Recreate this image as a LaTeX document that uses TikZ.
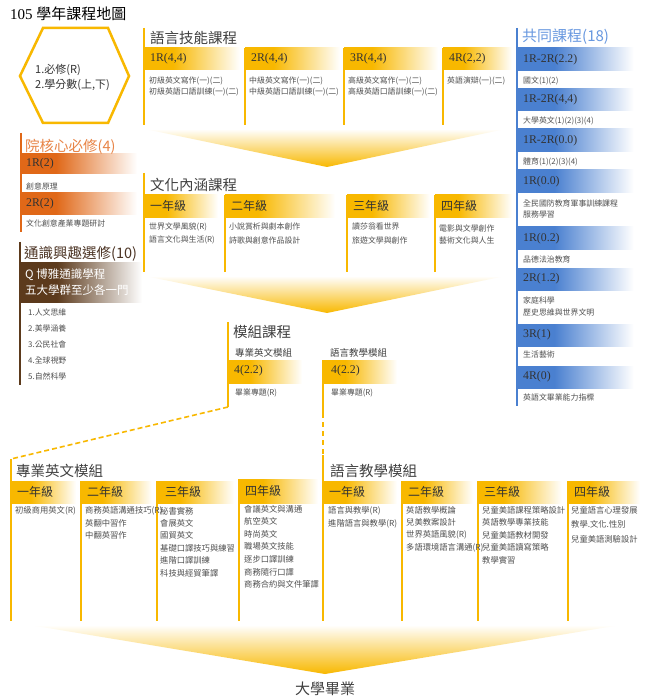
\documentclass[tikz,border=0pt]{standalone}
\usepackage{fontspec}
\setmainfont{Liberation Serif}
\newfontfamily\cjk{Noto Sans CJK TC}
\definecolor{cgold}{RGB}{248,184,0}
\definecolor{cblue}{RGB}{74,128,208}
\definecolor{cbluet}{RGB}{104,152,224}
\definecolor{corange}{RGB}{224,104,24}
\definecolor{coranget}{RGB}{232,132,70}
\definecolor{cbrown}{RGB}{92,58,28}
\definecolor{cbrownt}{RGB}{76,52,36}
\definecolor{chead}{RGB}{51,51,51}
\definecolor{ctitle}{RGB}{64,64,64}
\definecolor{ctxt}{RGB}{80,80,80}
\pgfdeclarehorizontalshading{fgold}{100bp}{color(0bp)=(cgold); color(25bp)=(cgold); color(40bp)=(cgold); color(75bp)=(white); color(100bp)=(white)}
\pgfdeclarehorizontalshading{fblue}{100bp}{color(0bp)=(cblue); color(25bp)=(cblue); color(40bp)=(cblue); color(72bp)=(white); color(100bp)=(white)}
\pgfdeclarehorizontalshading{forange}{100bp}{color(0bp)=(corange); color(25bp)=(corange); color(40bp)=(corange); color(75bp)=(white); color(100bp)=(white)}
\pgfdeclarehorizontalshading{fbrown}{100bp}{color(0bp)=(cbrown); color(25bp)=(cbrown); color(40bp)=(cbrown); color(75bp)=(white); color(100bp)=(white)}
\tikzset{
  it/.style={anchor=west, inner sep=0pt, font=\cjk\fontsize{7.9}{9}\selectfont, text=ctxt},
  itb/.style={anchor=west, inner sep=0pt, font=\cjk\fontsize{8.3}{9}\selectfont, text=ctxt},
  bandlbl/.style={anchor=west, inner sep=0pt, font=\fontsize{11.8}{13}\selectfont, text=chead},
  gradelbl/.style={anchor=west, inner sep=0pt, font=\cjk\fontsize{12}{13}\selectfont, text=chead},
  sect/.style={anchor=west, inner sep=0pt, font=\cjk\fontsize{14.5}{15}\selectfont, text=ctitle},
  subsect/.style={anchor=west, inner sep=0pt, font=\cjk\fontsize{9.5}{10}\selectfont, text=ctitle},
  goldline/.style={draw=cgold, line width=2pt},
  funnel/.style={top color=white, middle color=cgold!28, bottom color=cgold},
}
\begin{document}
\begin{tikzpicture}[x=1pt,y=-1pt]
\useasboundingbox (0,0) rectangle (647,700);
\fill[white] (0,0) rectangle (647,700);

% ---------- title
\node[anchor=west, inner sep=0pt, font=\fontsize{15}{16}\selectfont, text=black] (title) at (10,14) {105 {\cjk 學年課程地圖}};

% ---------- hexagon legend
\draw[cgold, line width=2.5pt, line join=miter] (20,76) -- (43,28) -- (108,28) -- (129,76) -- (108,123) -- (43,123) -- cycle;
\node[anchor=west, inner sep=0pt, font=\cjk\fontsize{11}{12}\selectfont, text=chead] (hex1) at (35,70) {1.必修(R)};
\node[anchor=west, inner sep=0pt, font=\cjk\fontsize{11}{12}\selectfont, text=chead] (hex2) at (35,85) {2.學分數(上,下)};

% ---------- language skills
\shade[shading=fgold] (144,48) rectangle (240,70);
\shade[shading=fgold] (245,48) rectangle (340,70);
\shade[shading=fgold] (344,48) rectangle (438,70);
\shade[shading=fgold] (443,48) rectangle (512,70);
\draw[goldline] (144,28) -- (144,125);
\draw[goldline] (245,48) -- (245,125);
\draw[goldline] (344,48) -- (344,125);
\draw[goldline] (443,48) -- (443,125);
\node[sect] (lsk) at (150,38) {語言技能課程};
\node[bandlbl] (lsk1) at (150,59) {1R(4,4)};
\node[bandlbl] (lsk2) at (251,59) {2R(4,4)};
\node[bandlbl] (lsk3) at (350,59) {3R(4,4)};
\node[bandlbl] (lsk4) at (449,59) {4R(2,2)};
\node[it] (lsk1a) at (149,81) {初級英文寫作(一)(二)};
\node[it] (lsk1b) at (149,92) {初級英語口語訓練(一)(二)};
\node[it] (lsk2a) at (249,81) {中級英文寫作(一)(二)};
\node[it] (lsk2b) at (249,92) {中級英語口語訓練(一)(二)};
\node[it] (lsk3a) at (348,81) {高級英文寫作(一)(二)};
\node[it] (lsk3b) at (348,92) {高級英語口語訓練(一)(二)};
\node[it] (lsk4a) at (447,81) {英語演辯(一)(二)};

% funnel 1
\shade[funnel] (145,129) -- (505,129) -- (327,167) -- cycle;

% ---------- common courses (blue)
\foreach \ya/\yb/\lbl [count=\i] in {48/71/1R-2R(2.2), 89/111/{1R-2R(4,4)}, 129/152/1R-2R(0.0), 170/193/1R(0.0), 227/250/1R(0.2), 268/290/2R(1.2), 324/346/3R(1), 366/388/4R(0)}{
  \shade[shading=fblue] (517,\ya) rectangle (641,\yb);
  \node[bandlbl] (cb\i) at (523,{(\ya+\yb)/2}) {\lbl};
}
\draw[draw=cblue, line width=2.5pt] (517,28) -- (517,406);
\node[anchor=west, inner sep=0pt, font=\cjk\fontsize{15}{16}\selectfont, text=cbluet] (common) at (522,37) {共同課程(18)};
\node[it] (c1) at (523,81) {國文(1)(2)};
\node[it] (c2) at (523,121) {大學英文(1)(2)(3)(4)};
\node[it] (c3) at (523,162) {體育(1)(2)(3)(4)};
\node[it] (c4) at (523,203) {全民國防教育軍事訓練課程};
\node[it] (c5) at (523,215) {服務學習};
\node[it] (c6) at (523,259) {品德法治教育};
\node[it] (c7) at (523,300) {家庭科學};
\node[it] (c8) at (523,312) {歷史思維與世界文明};
\node[it] (c9) at (523,355) {生活藝術};
\node[it] (c10) at (523,397) {英語文畢業能力指標};

% ---------- college core (orange)
\shade[shading=forange] (21,154) rectangle (137,174);
\shade[shading=forange] (21,193) rectangle (137,215);
\draw[draw=corange, line width=2pt] (21,133) -- (21,232);
\node[anchor=west, inner sep=0pt, font=\cjk\fontsize{14.5}{15}\selectfont, text=coranget] (core) at (25,147) {院核心必修(4)};
\node[bandlbl] (core1) at (26,164) {1R(2)};
\node[it] (core1a) at (26,186) {創意原理};
\node[bandlbl] (core2) at (26,204) {2R(2)};
\node[it] (core2a) at (26,224) {文化創意產業專題研討};

% ---------- general education (brown)
\shade[shading=fbrown] (20,262) rectangle (142,302);
\draw[draw=cbrown, line width=2pt] (20,242) -- (20,385);
\node[anchor=west, inner sep=0pt, font=\cjk\fontsize{14.5}{15}\selectfont, text=cbrownt] (gen) at (24,254) {通識興趣選修(10)};
\node[anchor=west, inner sep=0pt, font=\cjk\fontsize{11.5}{12}\selectfont, text=white] (gen1) at (25,275) {Q 博雅通識學程};
\node[anchor=west, inner sep=0pt, font=\cjk\fontsize{11.5}{12}\selectfont, text=white] (gen2) at (25,290) {五大學群至少各一門};
\foreach \t [count=\i from 0] in {1.人文思維, 2.美學涵養, 3.公民社會, 4.全球視野, 5.自然科學}
  \node[it] (genit\i) at (28,{312+16.2*\i}) {\t};

% ---------- culture courses
\shade[shading=fgold] (144,195) rectangle (218,218);
\shade[shading=fgold] (225,195) rectangle (335,218);
\shade[shading=fgold] (347,195) rectangle (430,218);
\shade[shading=fgold] (435,195) rectangle (512,218);
\draw[goldline] (144,173) -- (144,272);
\draw[goldline] (225,195) -- (225,272);
\draw[goldline] (347,195) -- (347,272);
\draw[goldline] (435,195) -- (435,272);
\node[sect] (cul) at (150,185) {文化內涵課程};
\node[gradelbl] (cul1) at (150,206) {一年級};
\node[gradelbl] (cul2) at (231,206) {二年級};
\node[gradelbl] (cul3) at (353,206) {三年級};
\node[gradelbl] (cul4) at (441,206) {四年級};
\node[it] (cul1a) at (149,227) {世界文學風貌(R)};
\node[it] (cul1b) at (149,240) {語言文化與生活(R)};
\node[it] (cul2a) at (229,227) {小說賞析與劇本創作};
\node[it] (cul2b) at (229,240) {詩歌與創意作品設計};
\node[it] (cul3a) at (352,227) {讀莎翁看世界};
\node[it] (cul3b) at (352,240) {旅遊文學與創作};
\node[it] (cul4a) at (439,228) {電影與文學創作};
\node[it] (cul4b) at (439,241) {藝術文化與人生};

% funnel 2
\shade[funnel] (145,276) -- (505,276) -- (327,313) -- cycle;

% ---------- module courses
\shade[shading=fgold] (228,360) rectangle (302,383);
\shade[shading=fgold] (323,360) rectangle (397,383);
\draw[goldline] (228,322) -- (228,407);
\node[sect] (mod) at (233,332) {模組課程};
\node[subsect] (modA) at (235,353) {專業英文模組};
\node[bandlbl] (modA1) at (234,371) {4(2.2)};
\node[it] (modAa) at (235,393) {畢業專題(R)};
\node[subsect] (modB) at (330,353) {語言教學模組};
\node[bandlbl] (modB1) at (331,371) {4(2.2)};
\node[it] (modBa) at (331,393) {畢業專題(R)};
\coordinate (mA) at (228,407);
\coordinate (bA) at (11,459);
\coordinate (mB) at (323,413);
\coordinate (bB) at (323,455);
\draw[goldline] (323,360) -- (mB);
\draw[draw=cgold, line width=1.6pt, dash pattern=on 5pt off 3pt] (mA) -- (bA);
\draw[draw=cgold, line width=2pt, dash pattern=on 5pt off 4pt] (mB) -- (bB);

% ---------- bottom: professional English module
\shade[shading=fgold] (11,481) rectangle (76,503);
\shade[shading=fgold] (81,481) rectangle (152,503);
\shade[shading=fgold] (157,481) rectangle (234,503);
\shade[shading=fgold] (239,479) rectangle (318,503);
\draw[goldline] (bA) -- (11,621);
\draw[goldline] (81,481) -- (81,621);
\draw[goldline] (157,481) -- (157,621);
\draw[goldline] (239,479) -- (239,621);
\node[sect] (pe) at (16,471) {專業英文模組};
\node[gradelbl] (pe1) at (17,492) {一年級};
\node[gradelbl] (pe2) at (87,492) {二年級};
\node[gradelbl] (pe3) at (165,492) {三年級};
\node[gradelbl] (pe4) at (245,491) {四年級};
\node[itb] (pe1a) at (15,511) {初級商用英文(R)};
\foreach \t [count=\i from 0] in {商務英語溝通技巧(R), 英翻中習作, 中翻英習作}
  \node[itb] (pe2i\i) at (85,{511+12.4*\i}) {\t};
\foreach \t [count=\i from 0] in {秘書實務, 會展英文, 國貿英文, 基礎口譯技巧與練習, 進階口譯訓練, 科技與經貿筆譯}
  \node[itb] (pe3i\i) at (160,{511+12.4*\i}) {\t};
\foreach \t [count=\i from 0] in {會議英文與溝通, 航空英文, 時尚英文, 職場英文技能, 逐步口譯訓練, 商務隨行口譯, 商務合約與文件筆譯}
  \node[itb] (pe4i\i) at (244,{509+12.6*\i}) {\t};

% ---------- bottom: language teaching module
\shade[shading=fgold] (323,481) rectangle (397,503);
\shade[shading=fgold] (402,481) rectangle (473,503);
\shade[shading=fgold] (478,481) rectangle (562,503);
\shade[shading=fgold] (568,481) rectangle (640,503);
\draw[goldline] (bB) -- (323,621);
\draw[goldline] (402,481) -- (402,621);
\draw[goldline] (478,481) -- (478,621);
\draw[goldline] (568,481) -- (568,621);
\node[sect] (lt) at (330,471) {語言教學模組};
\node[gradelbl] (lt1) at (329,492) {一年級};
\node[gradelbl] (lt2) at (408,492) {二年級};
\node[gradelbl] (lt3) at (484,492) {三年級};
\node[gradelbl] (lt4) at (574,492) {四年級};
\foreach \t [count=\i from 0] in {語言與教學(R), 進階語言與教學(R)}
  \node[itb] (lt1i\i) at (328,{511+12.4*\i}) {\t};
\foreach \t [count=\i from 0] in {英語教學概論, 兒美教案設計, 世界英語風貌(R), 多語環境語言溝通(R)}
  \node[itb] (lt2i\i) at (406,{510+12.6*\i}) {\t};
\foreach \t [count=\i from 0] in {兒童美語課程策略設計, 英語教學專業技能, 兒童美語教材開發, 兒童美語讀寫策略, 教學實習}
  \node[itb] (lt3i\i) at (482,{510+12.6*\i}) {\t};
\foreach \t [count=\i from 0] in {兒童語言心理發展, 教學.文化.性別, 兒童美語測驗設計}
  \node[itb] (lt4i\i) at (571,{510+14.5*\i}) {\t};

% funnel 3 and graduation
\shade[funnel] (30,625) -- (620,625) -- (325,674) -- cycle;
\node[inner sep=0pt, font=\cjk\fontsize{15}{16}\selectfont, text=ctitle] (grad) at (325,689) {大學畢業};
\end{tikzpicture}
\end{document}
